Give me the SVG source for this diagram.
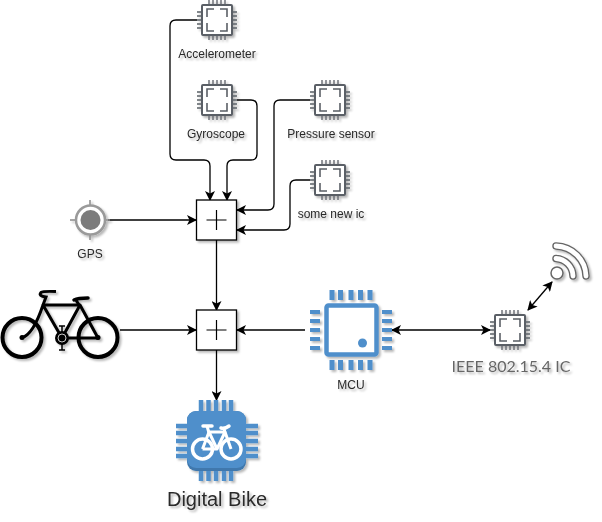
<svg xmlns="http://www.w3.org/2000/svg" width="602" height="522" viewBox="0 0 602 522">
<style>
text{font-family:"Liberation Sans",Arial,sans-serif;font-size:12px;fill:#2a2a2a;text-anchor:middle}
.conn{fill:none;stroke:#000;stroke-width:1.3}
.box{fill:#fff;stroke:#000;stroke-width:1.3}
.plus{fill:none;stroke:#000;stroke-width:1.2}
.chipbody{fill:#fff;stroke:#5a5f66;stroke-width:2}
.chipline{fill:none;stroke:#5a5f66;stroke-width:1.3}
.blue{fill:#4f8fcb}
</style>
<defs>
<filter id="sh" x="-20%" y="-20%" width="150%" height="150%"><feDropShadow dx="2" dy="2" stdDeviation="1.3" flood-color="#000" flood-opacity="0.28"/></filter>
<marker id="arr" viewBox="0 0 10 10" refX="9" refY="5" markerWidth="10" markerHeight="10" markerUnits="userSpaceOnUse" orient="auto-start-reverse"><path d="M0,0 L10,5 L0,10 L2.500,5 Z" fill="#000"/></marker>
<g id="chip">
<path class="chipline" d="M-20,-8H-15M-20,-4H-15M-20,0H-15M-20,4H-15M-20,8H-15M15,-8H20M15,-4H20M15,0H20M15,4H20M15,8H20M-8,-20V-15M-4,-20V-15M0,-20V-15M4,-20V-15M8,-20V-15M-8,15V20M-4,15V20M0,15V20M4,15V20M8,15V20"/>
<rect class="chipbody" x="-15" y="-15" width="30" height="30" rx="1"/>
<path class="chipline" style="stroke-width:1.6" d="M-10,-3V-11H-3M3,-11H10V-3M10,3V11H3M-3,11H-10V3"/>
</g>
</defs>
<g id="connectors">
<path class="conn" marker-end="url(#arr)" d="M197,20H176Q170,20 170,26V154Q170,160 176,160H204Q210,160 210,166V200"/>
<path class="conn" marker-end="url(#arr)" d="M237,100H251Q257,100 257,106V154Q257,160 251,160H233Q227,160 227,166V200"/>
<path class="conn" marker-end="url(#arr)" d="M310,100H280Q274,100 274,106V204Q274,210 268,210H237"/>
<path class="conn" marker-end="url(#arr)" d="M310,180H296Q290,180 290,186V224Q290,230 284,230H237"/>
<path class="conn" marker-end="url(#arr)" d="M108,220H196"/>
<path class="conn" marker-end="url(#arr)" d="M216.500,240V310"/>
<path class="conn" marker-end="url(#arr)" d="M120,330H196"/>
<path class="conn" marker-end="url(#arr)" d="M305,330H237"/>
<path class="conn" marker-end="url(#arr)" d="M216.500,350V400"/>
<path class="conn" marker-start="url(#arr)" marker-end="url(#arr)" d="M392,330H490"/>
<path class="conn" marker-start="url(#arr)" marker-end="url(#arr)" d="M528,310L552,282"/>
</g>
<g id="accelerometer" filter="url(#sh)"><use href="#chip" x="217" y="20"/><text x="217" y="58">Accelerometer</text></g>
<g id="gyroscope" filter="url(#sh)"><use href="#chip" x="217" y="100"/><text x="216" y="138">Gyroscope</text></g>
<g id="pressure-sensor" filter="url(#sh)"><use href="#chip" x="330" y="100"/><text x="331" y="138">Pressure sensor</text></g>
<g id="some-new-ic" filter="url(#sh)"><use href="#chip" x="330" y="180"/><text x="331" y="218">some new ic</text></g>
<g id="gps" filter="url(#sh)">
<path d="M90,200V208M90,232V240M70,220H78M102,220H110" stroke="#8a8a8a" stroke-width="1.500" fill="none"/>
<circle cx="90.500" cy="220" r="14.500" fill="#fff" stroke="#9a9a9a" stroke-width="2.500"/>
<circle cx="90.500" cy="220" r="10" fill="#7b7b7b"/>
<text x="90" y="258">GPS</text>
</g>
<g id="adder-top" filter="url(#sh)"><rect class="box" x="196.500" y="200" width="40" height="40"/><path class="plus" d="M206.500,220H226.500M216.500,210V230"/></g>
<g id="adder-bottom" filter="url(#sh)"><rect class="box" x="196.500" y="310" width="40" height="40"/><path class="plus" d="M206.500,330H226.500M216.500,320V340"/></g>
<g id="bike" filter="url(#sh)" fill="none" stroke="#000">
<circle cx="22" cy="337.500" r="19.500" stroke-width="4"/>
<circle cx="98" cy="337.500" r="19.500" stroke-width="4"/>
<path stroke-width="3" stroke-linejoin="round" d="M22,337.500Q33,335 43,305L62,338H98L80,305H43M80,305L62,338"/>
<path stroke-width="3" d="M43,305L46,297Q38,296 41,292.500Q43,291 56,291.500"/>
<path stroke-width="3" d="M79,305L76,300"/>
<path stroke-width="3.500" stroke-linecap="round" d="M74,300Q78,298 88,298"/>
<path stroke-width="1.500" d="M62,326V350M59,326H65M59,350H65"/>
<circle cx="62" cy="338" r="7" fill="#000" stroke="none"/>
<circle cx="62" cy="338" r="4" fill="none" stroke="#fff" stroke-width="0.800"/>
<circle cx="22" cy="337.500" r="2.500" fill="#000" stroke="none"/>
<circle cx="98" cy="337.500" r="2.500" fill="#000" stroke="none"/>
</g>
<g id="mcu" filter="url(#sh)">
<path fill="none" stroke="#4f8fcb" stroke-width="5" d="M332,290V300M340.500,290V300M351,290V300M360.500,290V300M370,290V300M332,360V370M340.500,360V370M351,360V370M360.500,360V370M370,360V370"/>
<path fill="none" stroke="#4f8fcb" stroke-width="4" d="M310,312H320M310,321H320M310,330H320M310,339H320M310,348H320M382,312H392M382,321H392M382,330H392M382,339H392M382,348H392"/>
<rect x="326.500" y="305.500" width="50" height="49" rx="2" fill="#fff" stroke="#4f8fcb" stroke-width="4.500"/>
<circle cx="362.500" cy="343" r="4.500" class="blue"/>
<text x="351" y="389">MCU</text>
</g>
<g id="ieee-ic" filter="url(#sh)"><use href="#chip" x="510" y="330"/><text x="511" y="372" style="font-family:Lato,sans-serif;font-size:16px;fill:#666">IEEE 802.15.4 IC</text></g>
<g id="wifi" filter="url(#sh)" fill="none">
<circle cx="557" cy="273" r="6" fill="#fff" stroke="#666" stroke-width="1.500"/>
<path stroke="#666" stroke-width="7.500" stroke-linecap="round" d="M556,258.500A18,18 0 0 1 573,276M556,246A31,31 0 0 1 586,276"/>
<path stroke="#fff" stroke-width="4.800" stroke-linecap="round" d="M556,258.500A18,18 0 0 1 573,276M556,246A31,31 0 0 1 586,276"/>
</g>
<g id="digital-bike">
<g filter="url(#sh)">
<path fill="none" stroke="#4f8fcb" stroke-width="4.500" d="M201,400V412M208.500,400V412M216,400V412M224,400V412M231,400V412M201,470V481M208.500,470V481M216,470V481M224,470V481M231,470V481M176,426H190M176,433H190M176,441H190M176,449H190M176,456H190M244,426H258M244,433H258M244,441H258M244,449H258M244,456H258"/>
<rect x="187" y="411" width="59" height="60" rx="9" fill="#3f78ad"/>
<rect x="187" y="411" width="59" height="57" rx="9" class="blue"/>
</g>
<g fill="none" stroke="#fff">
<circle cx="202.500" cy="449" r="10" stroke-width="3.500"/>
<circle cx="231" cy="449" r="10" stroke-width="3.500"/>
<path stroke-width="3" stroke-linejoin="round" d="M202.500,449L209,432H225L231,449M209,432L217,449L225,432M217,449H202.500"/>
<path stroke-width="3.500" stroke-linecap="round" d="M203,426H212M221,428Q225,429 229,426"/>
<path stroke-width="3" d="M207,426L209,433M224,428L225,433"/>
</g>
<text x="217" y="506" filter="url(#sh)" style="font-size:20px">Digital Bike</text>
</g>
</svg>
